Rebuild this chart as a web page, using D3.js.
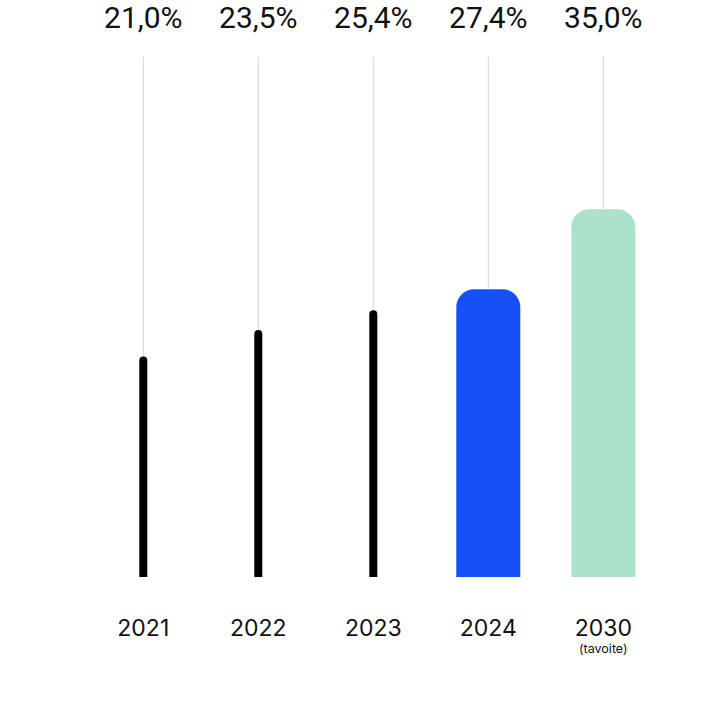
<!DOCTYPE html>
<html>
<head>
<meta charset="utf-8">
<script src="https://cdn.jsdelivr.net/npm/d3@7"></script>
<style>
  html, body { margin: 0; padding: 0; background: #fff; }
  svg { display: block; }
</style>
</head>
<body>
<svg width="720" height="720"></svg>
<script>
// data
const years = ['2021', '2022', '2023', '2024', '2030'];
const values = [21.0, 23.5, 25.4, 27.4, 35.0];
const valueLabels = ['21,0%', '23,5%', '25,4%', '27,4%', '35,0%'];
const subLabels = ['', '', '', '', '(tavoite)'];
const barKinds = ['thin', 'thin', 'thin', 'blue', 'mint'];

const svg = d3.select('svg');

const baseY = 577;
const gridTop = 57;

const xScale = d3.scalePoint()
    .domain(years)
    .range([143.3, 603.3]);

const yScale = d3.scaleLinear()
    .domain([0, 35])
    .range([baseY, 209.3]);

const sample = years.map((y, i) => ({
    year: y, value: values[i], label: valueLabels[i], sub: subLabels[i], kind: barKinds[i]
}));

// rounded-top bar
const topRounded = (cx, w, top, bottom, r) => {
    const x0 = cx - w / 2, x1 = cx + w / 2;
    return `M${x0},${bottom} L${x0},${top + r} A${r},${r} 0 0 1 ${x0 + r},${top}` +
        ` L${x1 - r},${top} A${r},${r} 0 0 1 ${x1},${top + r} L${x1},${bottom} Z`;
};

// vertical grid lines
svg.append('g')
    .selectAll('line')
    .data(sample)
    .enter()
    .append('line')
    .attr('x1', (d) => xScale(d.year))
    .attr('x2', (d) => xScale(d.year))
    .attr('y1', gridTop)
    .attr('y2', (d) => yScale(d.value))
    .attr('stroke', '#d4d4d4')
    .attr('stroke-width', 1);

const colors = { thin: '#000000', blue: '#1450f5', mint: '#abe2c9' };

svg.append('g')
    .selectAll('path')
    .data(sample)
    .enter()
    .append('path')
    .attr('d', (d) => {
        const wide = d.kind !== 'thin';
        const w = wide ? 64 : 8;
        const r = wide ? 18 : 4;
        return topRounded(xScale(d.year), w, yScale(d.value), baseY, r);
    })
    .attr('fill', (d) => colors[d.kind]);

// value labels on top
svg.append('g')
    .selectAll('text')
    .data(sample)
    .enter()
    .append('text')
    .attr('x', (d) => xScale(d.year))
    .attr('y', 28)
    .attr('text-anchor', 'middle')
    .attr('font-family', 'Roboto, sans-serif')
    .attr('font-size', 30)
    .attr('fill', '#111')
    .text((d) => d.label);

// year labels
svg.append('g')
    .selectAll('text')
    .data(sample)
    .enter()
    .append('text')
    .attr('x', (d) => xScale(d.year))
    .attr('y', 636)
    .attr('text-anchor', 'middle')
    .attr('font-family', 'Inter, sans-serif')
    .attr('font-size', 23)
    .attr('fill', '#111')
    .text((d) => d.year);

svg.append('g')
    .selectAll('text')
    .data(sample.filter((d) => d.sub))
    .enter()
    .append('text')
    .attr('x', (d) => xScale(d.year))
    .attr('y', 653)
    .attr('text-anchor', 'middle')
    .attr('font-family', 'Inter, sans-serif')
    .attr('font-size', 12.5)
    .attr('fill', '#111')
    .text((d) => d.sub);
</script>
</body>
</html>
